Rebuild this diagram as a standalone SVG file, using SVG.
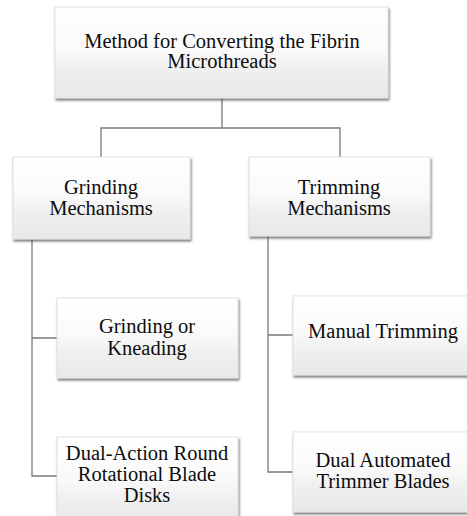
<svg xmlns="http://www.w3.org/2000/svg" width="467" height="516" viewBox="0 0 467 516">
<style>
.box{fill:url(#g);stroke:#e2e2e2;stroke-width:1;filter:url(#sh)}
text{font-family:'Liberation Serif','Times New Roman',Tinos,'DejaVu Serif',serif;font-size:20.5px;fill:#0d0d0d;text-anchor:middle}
.c{fill:none;stroke:#7a7a7a;stroke-width:1.3}
</style>
<defs>
<linearGradient id="g" x1="0" y1="0" x2="0" y2="1">
<stop offset="0" stop-color="#ffffff"/>
<stop offset="0.45" stop-color="#fafafa"/>
<stop offset="0.7" stop-color="#efefef"/>
<stop offset="1" stop-color="#e8e8e8"/>
</linearGradient>
<filter id="sh" x="-10%" y="-10%" width="130%" height="140%">
<feDropShadow dx="1" dy="2" stdDeviation="1.3" flood-color="#333" flood-opacity="0.65"/>
</filter>
</defs>
<g id="connectors">
<path class="c" d="M222 98V128M101 157V128H340V157"/>
<path class="c" d="M32 239V476H57M32 338H57"/>
<path class="c" d="M268 236V472H293M268 335H293"/>
</g>
<g id="root">
<rect class="box" x="55" y="7" width="333" height="91"/>
<text x="222" y="48">Method for Converting the Fibrin</text>
<text x="222" y="68">Microthreads</text>
</g>
<g id="grinding">
<rect class="box" x="13" y="157" width="177" height="82"/>
<text x="101" y="194">Grinding</text>
<text x="101" y="215">Mechanisms</text>
</g>
<g id="trimming">
<rect class="box" x="249" y="157" width="181" height="79"/>
<text x="339" y="194">Trimming</text>
<text x="339" y="215">Mechanisms</text>
</g>
<g id="kneading">
<rect class="box" x="57" y="298" width="181" height="80"/>
<text x="147" y="333">Grinding or</text>
<text x="147" y="355">Kneading</text>
</g>
<g id="dualaction">
<rect class="box" x="57" y="437" width="181" height="90"/>
<text x="147" y="460">Dual-Action Round</text>
<text x="147" y="481">Rotational Blade</text>
<text x="147" y="502">Disks</text>
</g>
<g id="manual">
<rect class="box" x="293" y="296" width="185" height="79"/>
<text x="383" y="338">Manual Trimming</text>
</g>
<g id="dualauto">
<rect class="box" x="293" y="432" width="185" height="80"/>
<text x="383" y="467">Dual Automated</text>
<text x="383" y="488">Trimmer Blades</text>
</g>
</svg>
